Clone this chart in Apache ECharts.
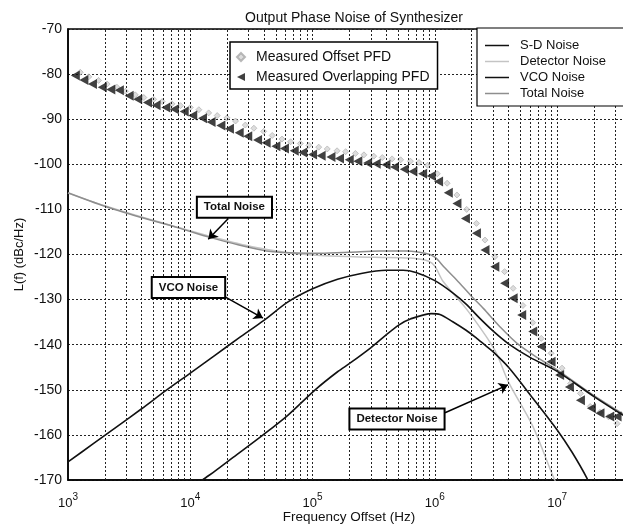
<!DOCTYPE html>
<html lang="en">
<head>
<meta charset="UTF-8">
<title>Output Phase Noise of Synthesizer</title>
<script src="https://cdn.jsdelivr.net/npm/echarts@6/dist/echarts.min.js"></script>
</head>
<body style="margin:0;background:#fff">
<div id="main" style="width:623px;height:529px"></div>
<script>
// measured points, [offset Hz, dBc/Hz]
const offsetPfd = [
    [1259, -79.6], [1479, -80.6], [1778, -81.4], [2089, -82.2], [2512, -82.9], [2951, -83.8],
    [3548, -84.6], [4169, -85.2], [5012, -85.6], [5888, -86.1], [7079, -86.6], [8318, -87.0],
    [10000, -87.4], [11750, -87.9], [14130, -88.6], [16600, -89.2], [19950, -89.7], [23440, -90.4],
    [28180, -91.3], [33110, -92.0], [39810, -92.7], [46770, -93.6], [56230, -94.4], [66070, -95.0],
    [79430, -95.4], [93330, -95.8], [112200, -96.2], [131800, -96.6], [158500, -97.0], [186200, -97.2],
    [223900, -97.6], [263000, -97.9], [316200, -98.2], [371500, -98.5], [446700, -98.8], [524800, -99.0],
    [631000, -99.3], [741300, -99.6], [871000, -100.2], [1.047e6, -102.1], [1.259e6, -104.2], [1.514e6, -106.8],
    [1.820e6, -110.0], [2.188e6, -113.1], [2.570e6, -116.8], [3.090e6, -120.5], [3.715e6, -123.8], [4.365e6, -127.5],
    [5.248e6, -131.3], [6.310e6, -135.1], [7.413e6, -138.6], [8.913e6, -141.9], [1.096e7, -145.2], [1.288e7, -148.6],
    [1.549e7, -150.8], [1.862e7, -153.7], [2.239e7, -155.0], [2.630e7, -156.0], [3.090e7, -157.5]
];
const overlapPfd = [
    [1148, -80.3], [1349, -81.3], [1585, -82.2], [1905, -82.9], [2239, -83.4], [2630, -83.6],
    [3162, -84.8], [3715, -85.6], [4467, -86.3], [5248, -86.9], [6310, -87.4], [7413, -87.8],
    [8913, -88.3], [10470, -89.2], [12590, -89.8], [14790, -90.6], [17780, -91.4], [20890, -92.1],
    [25120, -93.0], [29510, -93.8], [35480, -94.6], [41690, -95.2], [50120, -96.0], [58880, -96.5],
    [70790, -97.0], [83180, -97.4], [100000, -97.8], [117500, -98.1], [141300, -98.4], [166000, -98.7],
    [199500, -99.0], [234400, -99.3], [281800, -99.7], [331100, -99.9], [398100, -100.1], [467700, -100.6],
    [562300, -101.1], [660700, -101.6], [794300, -102.1], [933300, -102.6], [1.072e6, -103.8], [1.288e6, -106.3],
    [1.514e6, -108.7], [1.778e6, -112.0], [2.188e6, -115.3], [2.570e6, -119.0], [3.090e6, -122.7], [3.715e6, -126.4],
    [4.365e6, -129.7], [5.129e6, -133.4], [6.310e6, -137.1], [7.413e6, -140.4], [8.913e6, -143.8], [1.047e7, -146.7],
    [1.259e7, -149.4], [1.549e7, -152.3], [1.905e7, -154.1], [2.239e7, -155.2], [2.692e7, -155.9], [3.090e7, -155.9]
];

// model curves
const sdNoise = [
    [1e4, -172.2], [1.26e4, -170.0], [1.6e4, -168.0], [2.24e4, -165.0], [3.94e4, -160.0], [6.3e4, -155.6],
    [1.05e5, -150.0], [1.6e5, -146.0], [2.02e5, -144.1], [2.95e5, -140.8], [3.8e5, -138.3], [5.1e5, -135.6],
    [6.3e5, -134.3], [9.4e5, -133.1], [1.1e6, -133.3], [1.4e6, -134.9], [1.8e6, -136.8], [2.2e6, -138.6],
    [2.6e6, -140.2], [3e6, -141.6], [4e6, -145.0], [6.3e6, -151.8], [1e7, -158.9], [1.32e7, -163.8],
    [1.75e7, -169.6], [1.85e7, -171.5]
];
const detectorNoise = [
    [1e3, -106.4], [2e3, -109.2], [4e3, -111.7], [8e3, -114.0], [1.6e4, -116.3], [3.2e4, -118.3],
    [6.3e4, -119.6], [1.25e5, -120.3], [3.2e5, -120.6], [6.3e5, -120.8], [8.9e5, -121.5], [1e6, -122.6],
    [1.17e6, -126.0], [1.8e6, -132.0], [2.6e6, -138.0], [3.2e6, -142.0], [4e6, -148.3], [6.3e6, -158.0],
    [9.3e6, -169.3], [1e7, -171.0]
];
const vcoNoise = [
    [1e3, -166.0], [1.6e3, -162.0], [2.5e3, -158.2], [4e3, -154.2], [6.3e3, -150.2], [1e4, -146.3],
    [1.6e4, -142.3], [2.5e4, -138.5], [4e4, -134.6], [6.3e4, -130.5], [1e5, -127.6], [1.6e5, -125.5],
    [2.5e5, -124.2], [4e5, -123.5], [5.5e5, -123.5], [7e5, -124.0], [1e6, -125.8], [1.4e6, -128.5],
    [1.8e6, -131.0], [2.3e6, -134.0], [3e6, -137.0], [4e6, -139.8], [6e6, -142.8], [1e7, -145.9],
    [2e7, -151.5], [3.94e7, -156.6]
];
const totalNoise = [
    [1e3, -106.3], [2e3, -109.3], [4e3, -111.8], [8e3, -114.1], [1.45e4, -116.2], [2.5e4, -117.9],
    [4.2e4, -119.2], [6.5e4, -119.6], [1.15e5, -119.7], [2e5, -119.5], [3.5e5, -119.2], [6e5, -119.2],
    [8.5e5, -119.8], [1e6, -120.6], [1.2e6, -122.9], [1.5e6, -125.6], [2e6, -129.3], [2.5e6, -132.0],
    [3.4e6, -136.0], [4.7e6, -139.7], [7e6, -143.0], [1e7, -145.6], [2e7, -151.3], [3.94e7, -156.3]
];

const decades = [1e3, 1e4, 1e5, 1e6, 1e7];
const gridMultipliers = [1, 2, 3, 4, 5, 6, 7, 8, 9];
const xMin = 1e3, xMax = 3.94e7;

const notes = [
    {text: 'Total Noise', box: [22960, -109.5], from: [20460, -112.0], to: [14030, -116.6]},
    {text: 'VCO Noise', box: [9660, -127.3], from: [18160, -129.0], to: [39270, -134.1]},
    {text: 'Detector Noise', box: [490000, -156.5], from: [1.21e6, -155.1], to: [3.96e6, -148.9]}
];

const font = "'Liberation Sans', Arial, sans-serif";
const gridFreqs = [];
decades.forEach(d => gridMultipliers.forEach(m => {
    if (d * m > xMin && d * m < xMax) gridFreqs.push(d * m);
}));

const chart = echarts.init(document.getElementById('main'));

const dotted = {type: [2, 2], color: '#222', width: 1};

let option = {
    animation: false,
    textStyle: {fontFamily: font, color: '#111'},
    title: {
        text: 'Output Phase Noise of Synthesizer',
        left: 349,
        textAlign: 'center',
        top: 6,
        textStyle: {fontFamily: font, fontSize: 14, fontWeight: 'normal', color: '#111'}
    },
    grid: {
        left: 68, right: -7, top: 29, bottom: 49,
        outerBoundsMode: 'none',
        show: true, borderColor: '#000', borderWidth: 1.5, backgroundColor: '#fff'
    },
    legend: [
        {
            data: ['Measured Offset PFD', 'Measured Overlapping PFD'],
            orient: 'vertical',
            left: 230, top: 42,
            z: 20,
            itemWidth: 8, itemHeight: 8, itemGap: 6,
            padding: [8, 8, 5, 6],
            backgroundColor: '#fff', borderColor: '#000', borderWidth: 1.5,
            textStyle: {fontFamily: font, fontSize: 14, color: '#111', padding: [0, 0, 0, 6]}
        },
        {
            data: ['S-D Noise', 'Detector Noise', 'VCO Noise', 'Total Noise'],
            orient: 'vertical',
            left: 477, top: 28,
            z: 20,
            icon: 'rect',
            itemWidth: 24, itemHeight: 1.5, itemGap: 3,
            padding: [11, 40, 6, 8],
            backgroundColor: '#fff', borderColor: '#000', borderWidth: 1.2,
            textStyle: {fontFamily: font, fontSize: 13, color: '#111', padding: [0, 0, 0, 6]}
        }
    ],
    xAxis: {
        type: 'log',
        logBase: 10,
        min: xMin,
        max: xMax,
        name: 'Frequency Offset (Hz)',
        nameLocation: 'middle',
        nameGap: 30,
        nameMoveOverlap: false,
        nameTextStyle: {fontFamily: font, fontSize: 13.5, color: '#111'},
        axisLine: {lineStyle: {color: '#000', width: 1.5}},
        axisTick: {show: false},
        splitLine: {show: false},
        axisLabel: {
            margin: 12,
            showMaxLabel: false,
            formatter: v => '{a|10}{s|' + Math.round(Math.log10(v)) + '}',
            rich: {
                a: {fontFamily: font, fontSize: 13, color: '#111', lineHeight: 18, verticalAlign: 'bottom'},
                s: {fontFamily: font, fontSize: 10, color: '#111', lineHeight: 18, verticalAlign: 'top'}
            }
        }
    },
    yAxis: {
        type: 'value',
        min: -170,
        max: -70,
        interval: 10,
        name: 'L(f) (dBc/Hz)',
        nameLocation: 'middle',
        nameGap: 42,
        nameMoveOverlap: false,
        nameTextStyle: {fontFamily: font, fontSize: 13, color: '#111'},
        axisLine: {show: true, lineStyle: {color: '#000', width: 1.5}},
        axisTick: {show: false},
        axisLabel: {margin: 6, fontFamily: font, fontSize: 14, color: '#111'},
        splitLine: {show: true, lineStyle: dotted}
    },
    series: [
        {
            name: 'grid',
            type: 'line',
            data: [],
            silent: true,
            z: 1,
            markLine: {
                silent: true,
                symbol: 'none',
                label: {show: false},
                lineStyle: dotted,
                data: gridFreqs.map(f => ({xAxis: f}))
            }
        },
        {
            name: 'Detector Noise', type: 'line', data: detectorNoise, symbol: 'none', smooth: 0.3,
            color: '#c4c4c4', lineStyle: {color: '#c4c4c4', width: 1.5}, z: 3
        },
        {
            name: 'Total Noise', type: 'line', data: totalNoise, symbol: 'none', smooth: 0.3,
            color: '#8e8e8e', lineStyle: {color: '#8e8e8e', width: 1.5}, z: 3
        },
        {
            name: 'S-D Noise', type: 'line', data: sdNoise, symbol: 'none', smooth: 0.3,
            color: '#111', lineStyle: {color: '#111', width: 1.6}, z: 3
        },
        {
            name: 'VCO Noise', type: 'line', data: vcoNoise, symbol: 'none', smooth: 0.3,
            color: '#111', lineStyle: {color: '#111', width: 1.6}, z: 3
        },
        {
            name: 'Measured Offset PFD', type: 'scatter', data: offsetPfd,
            symbol: 'diamond', symbolSize: 6,
            itemStyle: {color: '#d4d4d4', borderColor: '#a8a8a8', borderWidth: 0.8}, z: 4
        },
        {
            name: 'Measured Overlapping PFD', type: 'scatter', data: overlapPfd,
            symbol: 'path://M0,5 L10,0 L10,10 Z', symbolSize: [9, 10],
            itemStyle: {color: '#111'}, z: 5
        },
        {
            name: 'notes',
            type: 'line',
            data: [],
            silent: true,
            z: 6,
            markLine: {
                silent: true,
                symbol: ['none', 'arrow'],
                symbolSize: 9,
                label: {show: false},
                lineStyle: {type: 'solid', color: '#000', width: 1.5},
                data: notes.map(n => [{coord: n.from}, {coord: n.to}])
            },
            markPoint: {
                silent: true,
                symbol: 'rect',
                symbolSize: 1,
                itemStyle: {color: 'rgba(0,0,0,0)'},
                label: {
                    show: true,
                    position: 'inside',
                    formatter: p => p.name,
                    fontFamily: font,
                    fontSize: 11.5,
                    fontWeight: 'bold',
                    color: '#111',
                    backgroundColor: '#fff',
                    borderColor: '#000',
                    borderWidth: 2,
                    padding: [4, 6, 3, 6]
                },
                data: notes.map(n => ({name: n.text, coord: n.box}))
            }
        }
    ]
};
chart.setOption(option);
</script>
</body>
</html>
